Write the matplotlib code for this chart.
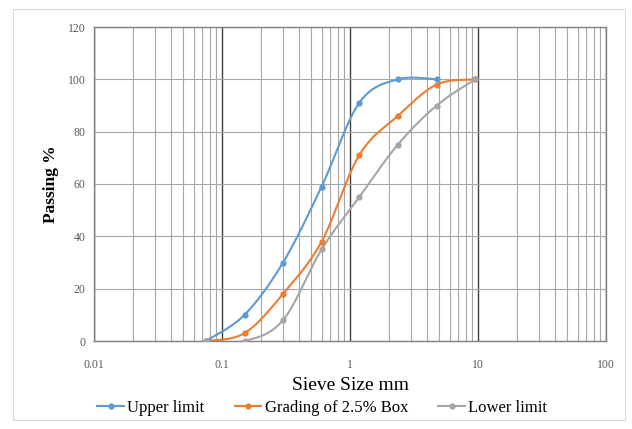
import matplotlib.pyplot as plt
import numpy as np
from matplotlib.ticker import FixedLocator, NullFormatter

plt.rcParams['font.family'] = ['Liberation Serif', 'DejaVu Serif']

sieve = [0.075, 0.15, 0.3, 0.6, 1.18, 2.36, 4.75, 9.5]
upper = [0, 10, 30, 59, 91, 100, 100]
grading = [0, 3, 18, 38, 71, 86, 98, 100]
lower = [0, 0, 8, 35, 55, 75, 90, 100]

yticks = [0, 20, 40, 60, 80, 100, 120]
xticks = [0.01, 0.1, 1, 10, 100]
xticklabels = ['0.01', '0.1', '1', '10', '100']

W, H = 632, 429
AX = [94 / W, (H - 341) / H, 512 / W, 314 / H]


def smooth(xs, ys, n=24):
    # Bezier smoothing in screen space, like a spreadsheet's smoothed line
    px = (np.log10(xs) + 2) / 4 * 512
    py = np.asarray(ys, float) / 120 * 314
    P = np.column_stack([px, py])
    out = [P[0]]
    for i in range(len(P) - 1):
        p0 = P[i - 1] if i > 0 else P[i]
        p3 = P[i + 2] if i + 2 < len(P) else P[i + 1]
        c1 = P[i] + (P[i + 1] - p0) / 6
        c2 = P[i + 1] - (p3 - P[i]) / 6
        t = np.linspace(0, 1, n)[1:, None]
        seg = ((1 - t) ** 3 * P[i] + 3 * (1 - t) ** 2 * t * c1
               + 3 * (1 - t) * t ** 2 * c2 + t ** 3 * P[i + 1])
        out.extend(seg)
    out = np.array(out)
    return 10 ** (out[:, 0] / 512 * 4 - 2), out[:, 1] / 314 * 120


fig = plt.figure(figsize=(W / 100, H / 100), dpi=100)
fig.patches.append(plt.Rectangle((13 / W, 9 / H), 612 / W, 411 / H,
                                 transform=fig.transFigure, fill=False,
                                 edgecolor='#d9d9d9', linewidth=0.8))
ax = fig.add_axes(AX)

series = [
    (sieve[:len(upper)], upper, '#5b9bd5', 'Upper limit'),
    (sieve, grading, '#ed7d31', 'Grading of 2.5% Box'),
    (sieve, lower, '#a5a5a5', 'Lower limit'),
]
for xs, ys, col, lab in series:
    sx, sy = smooth(xs, ys)
    ax.plot(sx, sy, color=col, linewidth=1.5, zorder=3)
    ax.plot(xs, ys, linestyle='none', marker='o', markersize=3.5,
            color=col, zorder=4)
    ax.plot([], [], color=col, linewidth=1.5, marker='o', markersize=3.5,
            label=lab)

ax.set_xscale('log')
ax.set_xlim(0.01, 100)
ax.set_ylim(0, 120)
ax.set_yticks(yticks)
ax.set_xticks(xticks)
ax.set_xticklabels(xticklabels)
minors = [m * 10.0 ** e for e in range(-2, 2) for m in range(2, 10)]
ax.xaxis.set_minor_locator(FixedLocator(minors))
ax.xaxis.set_minor_formatter(NullFormatter())

ax.grid(True, which='major', axis='x', color='#404040', linewidth=1.0)
ax.grid(True, which='minor', axis='x', color='#a6a6a6', linewidth=0.8)
ax.grid(True, which='major', axis='y', color='#a6a6a6', linewidth=0.8)
ax.set_axisbelow(True)
for s in ax.spines.values():
    s.set_color('#808080')
    s.set_linewidth(1.0)
ax.tick_params(which='both', length=0, labelsize=8.5, colors='#595959')
ax.tick_params(axis='y', pad=6)
ax.tick_params(axis='x', pad=13)

ax.set_xlabel('Sieve Size mm', fontsize=14, labelpad=4)
ax.set_ylabel('Passing %', fontsize=12.5, fontweight='bold', labelpad=6)
ax.legend(loc='upper center', bbox_to_anchor=(0.446, -0.14), ncol=3,
          frameon=False, fontsize=12, handlelength=1.6, handletextpad=0.2,
          columnspacing=1.8)

fig.savefig('out.png', dpi=100)
